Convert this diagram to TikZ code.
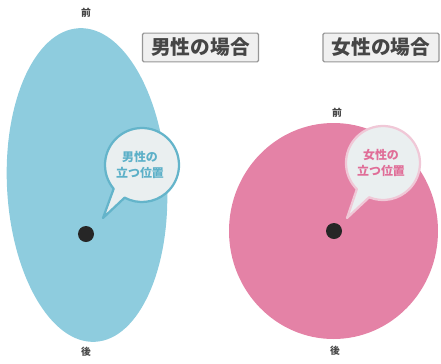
\documentclass[tikz,border=0pt]{standalone}
\usepackage{fontspec}
\usetikzlibrary{calc}
\newfontfamily\cjk{Noto Sans CJK JP}
\definecolor{manblue}{RGB}{142,204,222}
\definecolor{manline}{RGB}{100,180,202}
\definecolor{mantext}{RGB}{92,176,200}
\definecolor{womanpink}{RGB}{228,130,166}
\definecolor{womantext}{RGB}{224,110,152}
\definecolor{womanline}{RGB}{240,200,215}
\definecolor{bubblefill}{RGB}{234,239,240}
\definecolor{boxfill}{RGB}{240,240,240}
\definecolor{boxline}{RGB}{150,150,150}
\definecolor{titletext}{RGB}{70,70,70}
\tikzset{
  dirlabel/.style={font=\cjk\bfseries\fontsize{7}{8}\selectfont, text=titletext, inner sep=0pt},
  titlebox/.style={draw=boxline, fill=boxfill, line width=0.8pt, rounded corners=1pt,
     font=\cjk\bfseries\fontsize{14}{16}\selectfont, text=titletext, minimum width=2.9cm, minimum height=0.72cm, inner sep=1pt},
  bubbletext/.style={font=\cjk\bfseries\fontsize{8.5}{11}\selectfont, align=center, inner sep=0pt},
  standdot/.style={circle, fill=black!85, minimum size=0.4cm, inner sep=0pt}
}
\begin{document}
\begin{tikzpicture}[x=0.025cm,y=-0.025cm]
\useasboundingbox (0,0) rectangle (441,363);
% man
\fill[manblue, rotate around={3:(87,185)}] (87,185) ellipse [x radius=80, y radius=157];
\node[dirlabel] (mfront) at (86,13) {前};
\node[dirlabel] (mback) at (86,352) {後};
\node[standdot] (mdot) at (86,234) {};
\coordinate (mc) at (142,165);
\coordinate (mtip) at (103,218);
\draw[manline, fill=bubblefill, line width=1.6pt, line join=round]
  ($(mc)+(140:37)$) arc[start angle=140, end angle=478, radius=37] -- (mtip) -- cycle;
\node[bubbletext, text=mantext] (mtxt) at (140,165) {男性の\\立つ位置};
\node[titlebox] (mtitle) at (200.5,47.5) {男性の場合};
% woman
\fill[womanpink] (333.5,231) ellipse [x radius=104.5, y radius=108];
\node[dirlabel] (wfront) at (337,113) {前};
\node[dirlabel] (wback) at (335,351) {後};
\node[standdot] (wdot) at (334,231) {};
\coordinate (wc) at (383,163);
\coordinate (wtip) at (347,218);
\draw[womanline, fill=bubblefill, line width=1.6pt, line join=round]
  ($(wc)+(135:37)$) arc[start angle=135, end angle=472, radius=37] -- (wtip) -- cycle;
\node[bubbletext, text=womantext] (wtxt) at (381,163) {女性の\\立つ位置};
\node[titlebox] (wtitle) at (381,47.5) {女性の場合};
\end{tikzpicture}
\end{document}
